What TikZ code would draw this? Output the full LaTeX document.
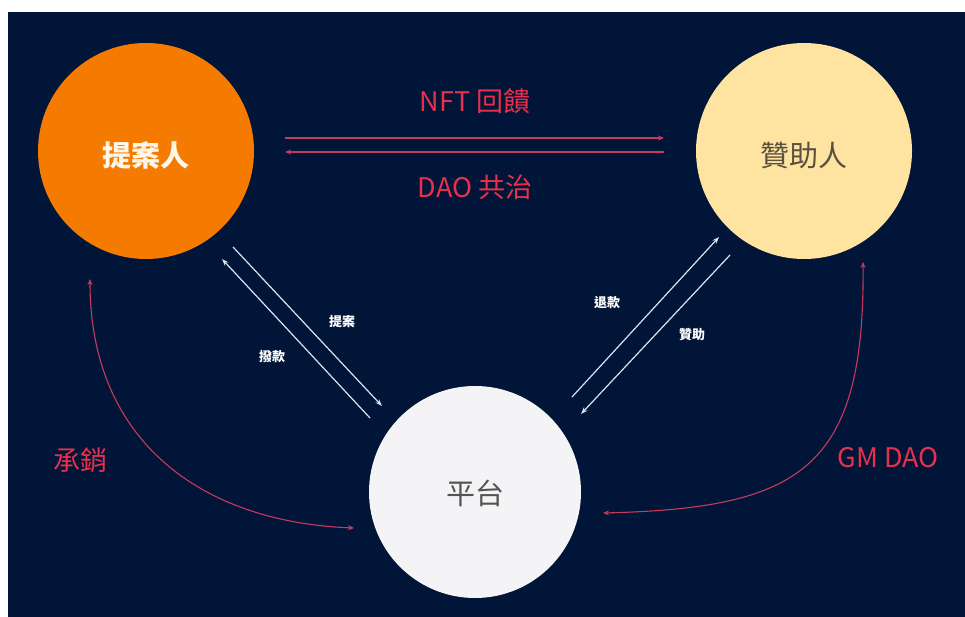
\documentclass[tikz,border=0pt]{standalone}
\usepackage{fontspec}
\setmainfont{Noto Sans CJK TC}
\usetikzlibrary{arrows.meta}
\definecolor{bgnavy}{HTML}{001538}
\definecolor{orangefill}{HTML}{F47B00}
\definecolor{creamfill}{HTML}{FFE3A1}
\definecolor{whitefill}{HTML}{F4F4F6}
\definecolor{redtext}{HTML}{E8304C}
\definecolor{redline}{HTML}{C83A5C}
\definecolor{paleline}{HTML}{DCE4F0}
\tikzset{
  party/.style={circle, minimum size=#1, inner sep=0pt},
  partytext/.style={font=\fontsize{29}{32}\selectfont},
  redlabel/.style={text=redtext, font=\fontsize{27}{30}\selectfont},
  smalllabel/.style={text=white, font=\fontsize{13}{15}\selectfont\bfseries},
  redarrow/.style={draw=redline, line width=1.1pt, -{Stealth[length=6pt,width=5pt]}},
  redboth/.style={draw=redline, line width=1.1pt, {Stealth[length=6pt,width=5pt]}-{Stealth[length=6pt,width=5pt]}},
  palearrow/.style={draw=paleline, line width=1.2pt, -{Stealth[length=7pt,width=5pt]}}
}
\begin{document}
\begin{tikzpicture}[x=1pt,y=-1pt]
\useasboundingbox (0,0) rectangle (965,617);
\fill[white] (0,0) rectangle (965,617);
\fill[bgnavy] (8,12) rectangle (965,617);

\node[party=216pt, fill=orangefill] (prop) at (146,151) {};
\node[party=216pt, fill=creamfill] (spon) at (804,151) {};
\node[party=212pt, fill=whitefill] (plat) at (475,492) {};
\node[partytext, font=\fontsize{29}{32}\selectfont\bfseries, text={rgb,255:red,255;green,246;blue,232}] (propt) at ([yshift=-5pt]prop.center) {提案人};
\node[partytext, text={rgb,255:red,90;green,80;blue,64}] (spont) at ([yshift=-5pt]spon.center) {贊助人};
\node[partytext, text={rgb,255:red,85;green,85;blue,85}] (platt) at ([yshift=-1pt]plat.center) {平台};

% horizontal arrows
\coordinate (h1a) at (285,138);
\coordinate (h1b) at (664,138);
\coordinate (h2a) at (664,152);
\coordinate (h2b) at (285,152);
\draw[redarrow] (h1a) -- (h1b);
\draw[redarrow] (h2a) -- (h2b);
\node[redlabel] (nft) at (475,101) {NFT 回饋};
\node[redlabel] (dao) at (475,187) {DAO 共治};

% left diagonal arrows
\coordinate (d1a) at (233,247);
\coordinate (d1b) at (382,406);
\coordinate (d2a) at (370,418);
\coordinate (d2b) at (222,259);
\draw[palearrow] (d1a) -- (d1b);
\draw[palearrow] (d2a) -- (d2b);
\node[smalllabel] (tian) at (342,322) {提案};
\node[smalllabel] (bokuan) at (272,357) {撥款};

% right diagonal arrows
\coordinate (r1a) at (572,397);
\coordinate (r1b) at (719,237);
\coordinate (r2a) at (730,255);
\coordinate (r2b) at (581,414);
\draw[palearrow] (r1a) -- (r1b);
\draw[palearrow] (r2a) -- (r2b);
\node[smalllabel] (tuikuan) at (607,303) {退款};
\node[smalllabel] (zanzhu) at (692,335) {贊助};

% curved arrows
\coordinate (c1a) at (90,279);
\coordinate (c1b) at (354,528);
\draw[redboth] (c1a) .. controls (90,440) and (200,522) .. (c1b);
\node[redlabel] (chengxiao) at (80,460) {承銷};

\coordinate (c2a) at (863,262);
\coordinate (c2b) at (603,513);
\draw[redboth] (c2a) .. controls (865,470) and (800,508) .. (c2b);
\node[redlabel] (gm) at (888,458) {GM DAO};
\end{tikzpicture}
\end{document}
